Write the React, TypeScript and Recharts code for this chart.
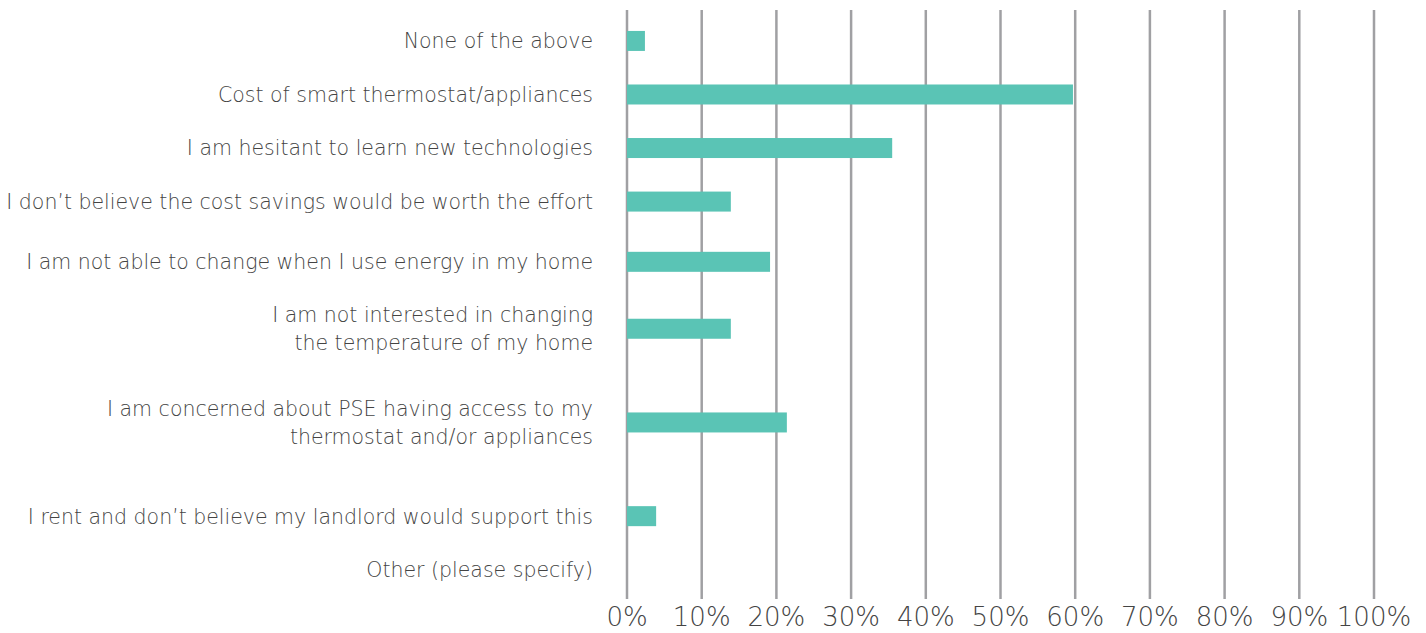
import { BarChart, Bar, XAxis, YAxis, CartesianGrid } from 'recharts';

const CATEGORIES = [
  'None of the above',
  'Cost of smart thermostat/appliances',
  'I am hesitant to learn new technologies',
  'I don\u2019t believe the cost savings would be worth the effort',
  'I am not able to change when I use energy in my home',
  'I am not interested in changing\nthe temperature of my home',
  'I am concerned about PSE having access to my\nthermostat and/or appliances',
  'I rent and don\u2019t believe my landlord would support this',
  'Other (please specify)',
];

const SHARES = [2.4, 59.7, 35.5, 13.9, 19.15, 13.9, 21.4, 3.9, 0];

const X_TICKS = [0, 10, 20, 30, 40, 50, 60, 70, 80, 90, 100];

// empty half-rows placed before each category (the source spaces rows unevenly)
const GAPS_BEFORE = [4, 7, 7, 7, 8, 9, 13, 13, 7];
const GAPS_AFTER = 4;

const FONT = '"DejaVu Sans", Roboto, sans-serif';
const BAR_COLOR = '#5ac4b5';
const TEXT_COLOR = '#444444';

type Row = { name: string; share: number | null; label?: string };

function buildRows(): Row[] {
  const rows: Row[] = [];
  let g = 0;
  const gap = (n: number) => {
    for (let i = 0; i < n; i++) rows.push({ name: `gap-${g++}`, share: null });
  };
  CATEGORIES.forEach((label, i) => {
    gap(GAPS_BEFORE[i]);
    rows.push({ name: `cat-${i}`, share: SHARES[i], label });
  });
  gap(GAPS_AFTER);
  return rows;
}

const rows = buildRows();
const labelByName: Record<string, string> = {};
rows.forEach((r) => {
  if (r.label) labelByName[r.name] = r.label;
});

function CategoryTick(props: any) {
  const { x, y, payload } = props;
  const label = labelByName[payload.value];
  if (!label) return null;
  const lines = label.split('\n');
  const lineHeight = 28;
  const start = y - ((lines.length - 1) * lineHeight) / 2;
  return (
    <text
      x={x}
      y={start}
      textAnchor="end"
      fill={TEXT_COLOR}
      fontSize={20.5}
      fontWeight={200}
      fontFamily={FONT}
    >
      {lines.map((line, i) => (
        <tspan key={i} x={x} y={start + i * lineHeight} dy="0.4em">
          {line}
        </tspan>
      ))}
    </text>
  );
}

function ThinBar(props: any) {
  const { x, y, width, height } = props;
  if (width == null || !(width > 0)) return null;
  return <rect x={x} y={y + height / 2 - 9} width={width} height={20} fill={BAR_COLOR} />;
}

export default function App() {
  return (
    <div style={{ position: 'absolute', left: 0, top: 0, background: '#fff' }}>
      <BarChart
        width={1426}
        height={633}
        data={rows}
        layout="vertical"
        margin={{ top: 10, right: 52, bottom: 0, left: 0 }}
      >
        <CartesianGrid horizontal={false} stroke="#a0a0a3" strokeWidth={2.5} />
        <XAxis
          type="number"
          domain={[0, 100]}
          ticks={X_TICKS}
          tickFormatter={(v: number) => `${v}%`}
          axisLine={false}
          tickLine={false}
          tickSize={0}
          tickMargin={9}
          height={34}
          interval={0}
          tick={{ fill: TEXT_COLOR, fontSize: 26, fontWeight: 200, fontFamily: FONT }}
        />
        <YAxis
          type="category"
          dataKey="name"
          width={627}
          axisLine={false}
          tickLine={false}
          tickSize={0}
          tickMargin={34}
          interval={0}
          tick={<CategoryTick />}
        />
        <Bar dataKey="share" shape={<ThinBar />} isAnimationActive={false} />
      </BarChart>
    </div>
  );
}
